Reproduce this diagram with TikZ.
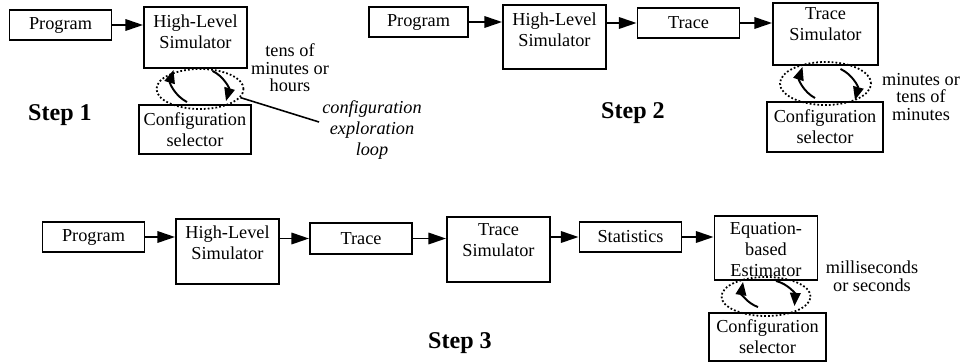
\documentclass[tikz,border=0pt]{standalone}
\usepackage{fontspec}
\setmainfont{Liberation Serif}
\usetikzlibrary{arrows.meta,calc,shapes.geometric}
\tikzset{
  figlabel/.style={font=\fontsize{10.4}{12}\selectfont, text=black},
  figbox/.style={draw, line width=1.1pt, minimum width=2.04cm, minimum height=0.6cm, inner sep=0pt, figlabel},
  figtall/.style={figbox, minimum width=2.06cm, minimum height=1.26cm},
  figsel/.style={figbox, minimum width=2.28cm, minimum height=0.98cm, align=center},
  figtop/.style={anchor=north, align=center, inner sep=5pt, figlabel},
  figarrow/.style={-{Triangle[length=10pt,width=6.5pt]}, line width=1.1pt},
  figcycle/.style={-{Triangle[length=7.5pt,width=6pt]}, line width=1.1pt, bend left=40},
  figring/.style={ellipse, draw, line width=1pt, dash pattern=on 1pt off 1.2pt, inner sep=0pt},
  figtime/.style={figlabel, font=\fontsize{10.4}{10}\selectfont, align=center},
  fignote/.style={figlabel, font=\fontsize{10.4}{12}\selectfont\itshape, align=center},
  figstep/.style={font=\fontsize{13.7}{16}\selectfont\bfseries}
}

\begin{document}
\begin{tikzpicture}[x=0.02cm, y=-0.02cm]
\useasboundingbox (0,0) rectangle (960,362);
% step 1
\node[figbox] (prog1) at (60.5,25) {Program};
\node[figtall, minimum height=1.22cm, label={[figtop]north:{High-Level\\Simulator}}] (hls1) at (195.5,37.5) {};
\node[figsel, minimum width=2.24cm] (sel1) at (195,129.5) {Configuration\\selector};
\draw[figarrow] (prog1) -- (prog1 -| hls1.west);
\draw[figcycle] ($(sel1.north)+(-8,-2)$) to ($(hls1.south)+(-22,1)$);
\draw[figcycle] ($(hls1.south)+(17,2)$) to ($(sel1.north)+(31,-3)$);
\node[figring, minimum width=1.74cm, minimum height=0.8cm] (ring1) at (200,89) {};
\node[figtime] (time1) at (290,68) {tens of\\minutes or\\hours};
\node[fignote] (note1) at (372,130) {configuration\\exploration\\loop};
\draw[line width=0.9pt] (ring1.-12) -- ($(note1.west)+(3,-8)$);
\node[figstep] (lbl1) at (60,115) {Step 1};
% step 2
\node[figbox, minimum width=1.98cm] (prog2) at (418.5,22) {Program};
\node[figtall, minimum height=1.28cm, label={[figtop]north:{High-Level\\Simulator}}] (hls2) at (554.5,37) {};
\node[figbox] (trace2) at (688.5,23) {Trace};
\node[figtall, minimum width=2.1cm, minimum height=1.24cm, label={[figtop, inner sep=3pt]north:{Trace\\Simulator}}] (tsim2) at (825.5,34) {};
\node[figsel, minimum width=2.32cm, minimum height=1cm] (sel2) at (825,127) {Configuration\\selector};
\draw[figarrow] (prog2) -- (prog2 -| hls2.west);
\draw[figarrow] (hls2.east |- trace2) -- (trace2);
\draw[figarrow] (trace2) -- (trace2 -| tsim2.west);
\draw[figcycle] ($(sel2.north)+(-10,-3)$) to ($(tsim2.south)+(-23,1)$);
\draw[figcycle] ($(tsim2.south)+(15,3)$) to ($(sel2.north)+(30,-1)$);
\node[figring, minimum width=1.82cm, minimum height=0.86cm] (ring2) at (825.5,83.5) {};
\node[figtime] (time2) at (921,97) {minutes or\\tens of\\minutes};
\node[figstep] (lbl2) at (633,113) {Step 2};
% step 3
\node[figbox] (prog3) at (93.5,237) {Program};
\node[figtall, minimum height=1.3cm, label={[figtop, inner sep=4pt]north:{High-Level\\Simulator}}] (hls3) at (227.5,251.5) {};
\node[figbox, minimum height=0.62cm] (trace3) at (361,238.5) {Trace};
\node[figtall, minimum height=1.3cm, label={[figtop, inner sep=4pt]north:{Trace\\Simulator}}] (tsim3) at (498.5,249.5) {};
\node[figbox] (stats3) at (630.5,237) {Statistics};
\node[figtall, minimum height=1.28cm, label={[figtop, inner sep=4pt]north:{Equation-\\based\\Estimator}}] (est3) at (766,248) {};
\node[figsel, minimum width=2.34cm, minimum height=0.96cm] (sel3) at (767.5,337) {Configuration\\selector};
\draw[figarrow] (prog3) -- (prog3 -| hls3.west);
\draw[figarrow] (hls3.east |- trace3) -- (trace3);
\draw[figarrow] (trace3) -- (trace3 -| tsim3.west);
\draw[figarrow] (tsim3.east |- stats3) -- (stats3);
\draw[figarrow] (stats3) -- (stats3 -| est3.west);
\draw[figcycle] ($(sel3.north)+(-9.5,-5)$) to ($(est3.south)+(-23,1)$);
\draw[figcycle] ($(est3.south)+(10,0)$) to ($(sel3.north)+(27,-6)$);
\node[figring, minimum width=1.78cm, minimum height=0.78cm] (ring3) at (766,296.5) {};
\node[figtime] (time3) at (872,276) {milliseconds\\or seconds};
\node[figstep] (lbl3) at (460,343) {Step 3};
\end{tikzpicture}
\end{document}
